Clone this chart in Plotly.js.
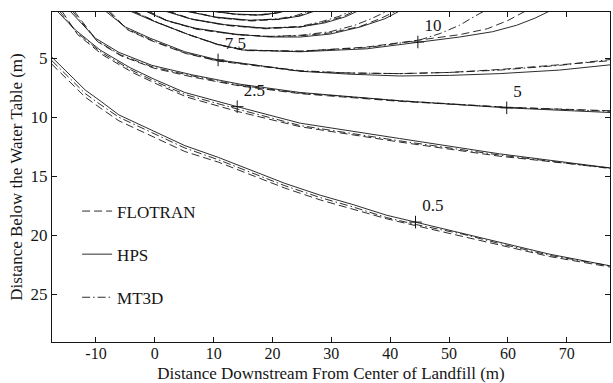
<!DOCTYPE html>
<html>
<head>
<meta charset="utf-8">
<script src="https://cdn.plot.ly/plotly-3.0.1.min.js"></script>
<style>
  html, body { margin: 0; padding: 0; background: #fff; }
  #chart { width: 613px; height: 383px; }
</style>
</head>
<body>
<div id="chart"></div>
<script>
// Concentration contour levels (one curve per level for each model)
const levels = [0.5, 2.5, 5, 7.5, 10, 12.5, 15, 17.5, 20];

// HPS (analytical solution) contours: x = distance downstream (m), y = depth below water table (m)
const hpsX = [
  [-17.5, -14.4, -11.8, -9.3, -6.1, -0.5, 5.1, 10.8, 16.5, 22.1, 28.1, 33.7, 39.4, 44.5, 52.3, 58.6, 67.1, 77.5],
  [-16.6, -13.5, -9.3, -4.2, 0.0, 5.1, 14.0, 24.7, 41.6, 58.6, 77.5],
  [-14.4, -10.1, -6.1, -0.5, 6.3, 14.5, 24.7, 41.6, 59.8, 77.5],
  [-8.4, -5.0, -0.8, 5.1, 10.75, 17.9, 24.7, 33.2, 41.6, 50.1, 58.6, 68.8, 77.5],
  [-4.2, 0.0, 5.5, 10.6, 15.0, 24.7, 36.0, 44.7, 51.8, 57.4, 61.5, 64.6, 67.1],
  [-1.6, 1.7, 6.8, 13.6, 19.6, 24.7, 29.8, 34.9, 39.1, 41.6],
  [1.7, 6.0, 11.9, 18.7, 24.7, 28.9, 32.3, 34.5],
  [5.1, 10.2, 16.2, 21.3, 24.7, 27.2],
  [9.4, 13.6, 17.9, 20.9, 22.1]
];
const hpsY = [
  [4.9, 6.4, 7.7, 8.6, 9.8, 11.1, 12.4, 13.4, 14.5, 15.6, 16.6, 17.4, 18.3, 18.9, 19.8, 20.6, 21.6, 22.6],
  [1.0, 2.6, 4.3, 5.8, 6.8, 7.9, 9.1, 10.5, 11.8, 13.1, 14.3],
  [1.0, 3.3, 4.5, 5.6, 6.4, 7.2, 7.9, 8.6, 9.2, 9.6],
  [1.0, 2.35, 3.3, 4.45, 5.14, 5.65, 6.1, 6.35, 6.5, 6.45, 6.3, 6.0, 5.55],
  [1.0, 1.9, 2.95, 3.8, 4.3, 4.45, 4.2, 3.62, 3.2, 2.75, 2.2, 1.6, 1.0],
  [1.0, 1.75, 2.45, 2.95, 3.2, 3.2, 2.95, 2.35, 1.65, 1.0],
  [1.0, 1.65, 2.15, 2.45, 2.35, 2.0, 1.5, 1.0],
  [1.0, 1.5, 1.78, 1.68, 1.42, 1.0],
  [1.0, 1.25, 1.33, 1.16, 1.0]
];

// MT3D contours
const mt3dX = [
  [-17.5, -14.4, -11.8, -9.3, -6.1, -0.5, 5.1, 10.8, 16.5, 22.1, 28.1, 33.7, 39.4, 44.5, 52.3, 58.6, 67.1, 77.5],
  [-16.2, -13.3, -9.1, -4.0, 0.2, 5.3, 14.0, 24.7, 41.6, 58.6, 77.5],
  [-14.0, -9.9, -5.9, -0.3, 6.4, 14.5, 24.7, 41.6, 59.8, 77.5],
  [-8.0, -4.8, -0.6, 5.2, 10.8, 17.9, 24.7, 33.2, 41.6, 50.1, 58.6, 68.8, 77.5],
  [-3.8, 0.4, 5.8, 10.8, 15.2, 24.7, 36.0, 44.7, 48.5, 51.8, 54.5, 56.0],
  [-1.3, 2.0, 7.0, 13.8, 19.6, 24.7, 29.8, 34.0, 37.0, 39.5],
  [2.0, 6.3, 12.1, 18.7, 24.7, 28.3, 31.3, 33.3],
  [5.5, 10.5, 16.2, 21.0, 24.0, 26.2],
  [9.8, 13.8, 17.6, 20.2, 21.3]
];
const mt3dY = [
  [5.2, 6.7, 8.0, 8.9, 10.0, 11.3, 12.6, 13.6, 14.7, 15.8, 16.8, 17.6, 18.5, 19.1, 19.9, 20.7, 21.7, 22.6],
  [1.0, 2.8, 4.5, 6.0, 7.0, 8.1, 9.3, 10.7, 12.0, 13.2, 14.35],
  [1.0, 3.5, 4.7, 5.75, 6.5, 7.3, 7.95, 8.6, 9.15, 9.5],
  [1.0, 2.5, 3.45, 4.55, 5.2, 5.65, 6.05, 6.25, 6.3, 6.2, 6.0, 5.6, 5.1],
  [1.0, 1.95, 3.0, 3.85, 4.3, 4.4, 4.1, 3.5, 2.9, 2.2, 1.4, 1.0],
  [1.0, 1.8, 2.5, 3.0, 3.15, 3.05, 2.75, 2.2, 1.6, 1.0],
  [1.0, 1.7, 2.2, 2.45, 2.3, 1.9, 1.45, 1.0],
  [1.0, 1.55, 1.8, 1.65, 1.38, 1.0],
  [1.0, 1.28, 1.33, 1.15, 1.0]
];

// FLOTRAN contours
const flotranX = [
  [-17.5, -14.4, -11.8, -9.3, -6.1, -0.5, 5.1, 10.8, 16.5, 22.1, 28.1, 33.7, 39.4, 44.5, 52.3, 58.6, 67.1, 77.5],
  [-15.8, -13.1, -8.9, -3.8, 0.4, 5.5, 14.0, 24.7, 41.6, 58.6, 77.5],
  [-13.7, -9.7, -5.7, -0.1, 6.5, 14.5, 24.7, 41.6, 59.8, 77.5],
  [-7.7, -4.6, -0.4, 5.3, 10.9, 17.9, 24.7, 33.2, 41.6, 50.1, 58.6, 68.8, 77.5],
  [-3.6, 0.6, 6.0, 11.0, 15.4, 24.7, 36.0, 44.7, 51.8, 56.5, 60.0, 63.0],
  [-1.1, 2.2, 7.2, 14.0, 19.6, 24.7, 29.8, 34.9, 38.5, 41.0],
  [2.3, 6.5, 12.3, 18.7, 24.7, 28.6, 31.8, 34.0],
  [5.8, 10.8, 16.4, 21.2, 24.4, 26.8],
  [10.0, 14.0, 17.9, 20.6, 21.8]
];
const flotranY = [
  [5.5, 7.0, 8.3, 9.2, 10.3, 11.6, 12.9, 13.8, 14.9, 16.0, 17.0, 17.8, 18.6, 19.2, 20.1, 20.8, 21.8, 22.7],
  [1.0, 3.0, 4.7, 6.2, 7.2, 8.3, 9.5, 10.8, 12.1, 13.3, 14.3],
  [1.0, 3.6, 4.8, 5.85, 6.6, 7.35, 8.0, 8.65, 9.15, 9.45],
  [1.0, 2.6, 3.55, 4.6, 5.25, 5.7, 6.1, 6.25, 6.3, 6.2, 5.95, 5.55, 5.2],
  [1.0, 2.0, 3.05, 3.9, 4.35, 4.4, 4.05, 3.5, 3.0, 2.5, 1.8, 1.0],
  [1.0, 1.85, 2.55, 3.0, 3.15, 3.1, 2.85, 2.3, 1.6, 1.0],
  [1.0, 1.72, 2.22, 2.5, 2.35, 1.95, 1.5, 1.0],
  [1.0, 1.58, 1.84, 1.7, 1.42, 1.0],
  [1.0, 1.3, 1.36, 1.18, 1.0]
];

// Contour labels (placed on the HPS curves)
const labelLevels = [0.5, 2.5, 5, 7.5, 10];
const labelX = [44.3, 14.0, 59.8, 10.75, 44.7];
const labelY = [18.88, 9.1, 9.2, 5.14, 3.62];

// Axis ticks
const xTicks = [-10, 0, 10, 20, 30, 40, 50, 60, 70];
const yTicks = [5, 10, 15, 20, 25];

const FONT = 'Liberation Serif, Times New Roman, serif';
const INK = '#151515';
const FS = 17;

const models = [
  { name: 'FLOTRAN', xs: flotranX, ys: flotranY, dash: '8px,4px' },
  { name: 'HPS',     xs: hpsX,     ys: hpsY,     dash: 'solid' },
  { name: 'MT3D',    xs: mt3dX,    ys: mt3dY,    dash: '8px,3px,1.5px,3px' }
];

const traces = [];
models.forEach((m, mi) => {
  levels.forEach((lev, li) => {
    traces.push({
      type: 'scatter',
      mode: 'lines',
      x: m.xs[li],
      y: m.ys[li],
      name: m.name,
      legendgroup: m.name,
      legendrank: mi + 1,
      showlegend: li === 0,
      line: { color: INK, width: 0.9, dash: m.dash },
      hoverinfo: 'skip'
    });
  });
});

traces.push({
  type: 'scatter',
  mode: 'markers+text',
  x: labelX,
  y: labelY,
  text: labelLevels.map(String),
  textposition: 'top right',
  textfont: { family: FONT, size: FS, color: INK },
  marker: { symbol: 'cross-thin', size: 9, line: { width: 1, color: INK } },
  showlegend: false,
  cliponaxis: false,
  hoverinfo: 'skip'
});

const axisCommon = {
  showgrid: false,
  zeroline: false,
  showline: true,
  linecolor: INK,
  linewidth: 1.2,
  mirror: 'ticks',
  ticks: 'inside',
  ticklen: 5,
  tickwidth: 1,
  tickcolor: INK,
  tickfont: { family: FONT, size: FS, color: INK }
};

const layout = {
  width: 613,
  height: 383,
  margin: { l: 52, r: 3, t: 12, b: 41 },
  paper_bgcolor: '#fff',
  plot_bgcolor: '#fff',
  font: { family: FONT, size: FS, color: INK },
  showlegend: true,
  legend: {
    x: 0.045, y: 0.45, xanchor: 'left', yanchor: 'top',
    bgcolor: 'rgba(0,0,0,0)',
    font: { family: FONT, size: FS, color: INK },
    tracegroupgap: 18,
    itemwidth: 30
  },
  xaxis: Object.assign({}, axisCommon, {
    range: [-17.47, 77.35],
    tickvals: xTicks,
    ticktext: xTicks.map(String),
    tickfont: { family: FONT, size: 16, color: INK },
    ticklabelstandoff: -3,
    title: { text: 'Distance Downstream From Center of Landfill (m)', font: { family: FONT, size: FS, color: INK }, standoff: 12 }
  }),
  yaxis: Object.assign({}, axisCommon, {
    range: [29.04, 1.08],
    tickvals: yTicks,
    ticktext: yTicks.map(String),
    title: { text: 'Distance Below the Water Table (m)', font: { family: FONT, size: FS, color: INK }, standoff: 3 }
  })
};

Plotly.newPlot('chart', traces, layout, { staticPlot: true, displayModeBar: false });
</script>
</body>
</html>
